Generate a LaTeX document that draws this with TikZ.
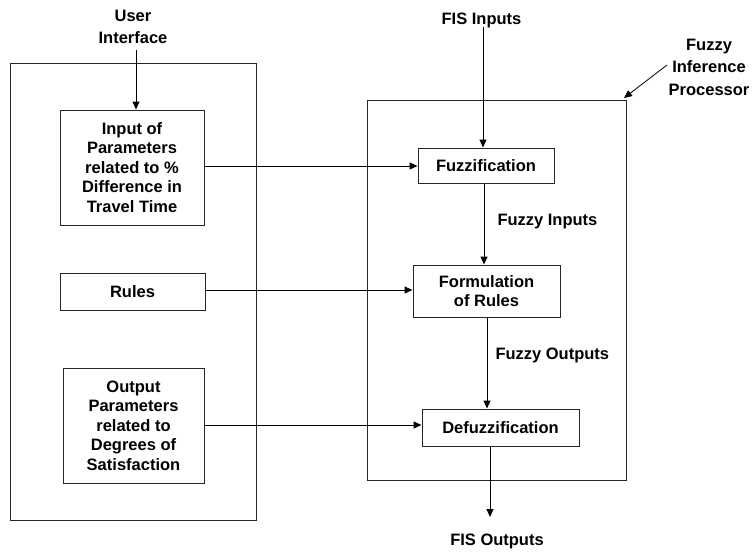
\documentclass[tikz,border=0pt]{standalone}
\usepackage{fontspec}
\setmainfont{Liberation Sans}
\usetikzlibrary{arrows.meta}
\begin{document}
\begin{tikzpicture}[x=1pt,y=-1pt,
  line width=1pt,
  txt/.style={font=\bfseries\fontsize{16.5}{19.5}\selectfont, align=center, inner sep=0pt},
  hdr/.style={font=\bfseries\fontsize{16.5}{22.5}\selectfont, align=center, inner sep=0pt},
  blk/.style={draw=black!85, txt},
  frame/.style={draw=black!85},
  arr/.style={-{Triangle[width=7pt,length=8pt]}}
]
\useasboundingbox (0,0) rectangle (753,552);

% outer frames
\draw[frame] (10,63) rectangle (256,520);
\draw[frame] (367,100) rectangle (626,480);

% left-hand blocks
\node[blk, minimum width=144pt, minimum height=115pt] (inp) at (132,167.5)
  {Input of\\Parameters\\related to \%\\Difference in\\Travel Time};
\node[blk, minimum width=145pt, minimum height=37pt] (rules) at (132.5,291.5) {Rules};
\node[blk, minimum width=141pt, minimum height=115pt] (outp) at (133.5,425.5)
  {Output\\Parameters\\related to\\Degrees of\\Satisfaction};

% inference blocks
\node[blk, minimum width=136pt, minimum height=35pt] (fuzz) at (486,165.5) {Fuzzification};
\node[blk, minimum width=147pt, minimum height=52pt] (form) at (486.5,291) {Formulation\\of Rules};
\node[blk, minimum width=157pt, minimum height=37pt] (defuzz) at (500.5,427.5) {Defuzzification};

% labels
\node[hdr] (ui) at (133,27) {User\\Interface};
\node[hdr] (fisin) at (481.5,20) {FIS Inputs};
\node[hdr] (fip) at (709,67) {Fuzzy\\Inference\\Processor};
\node[hdr, anchor=west] (fzin) at (497,222) {Fuzzy Inputs};
\node[hdr, anchor=west] (fzout) at (495,355) {Fuzzy Outputs};
\node[hdr] (fisout) at (497,541) {FIS Outputs};

% connectors
\coordinate (uitop) at (136,50);
\draw[arr] (uitop) -- (uitop |- inp.north);
\coordinate (fistop) at (483,27);
\draw[arr] (fistop) -- (fistop |- fuzz.north);
\draw[arr] (inp.east |- 0,166) -- (fuzz.west |- 0,166);
\draw[arr] (rules.east |- 0,290) -- (form.west |- 0,290);
\draw[arr] (outp.east |- 0,425) -- (defuzz.west |- 0,425);
\coordinate (c1) at (484,0);
\draw[arr] (c1 |- fuzz.south) -- (c1 |- form.north);
\coordinate (c2) at (487,0);
\draw[arr] (c2 |- form.south) -- (c2 |- defuzz.north);
\coordinate (c3) at (490,517);
\draw[arr] (c3 |- defuzz.south) -- (c3);
\coordinate (fipfrom) at (667,65);
\coordinate (fipto) at (624,98);
\draw[arr, line width=0.8pt] (fipfrom) -- (fipto);
\end{tikzpicture}
\end{document}
